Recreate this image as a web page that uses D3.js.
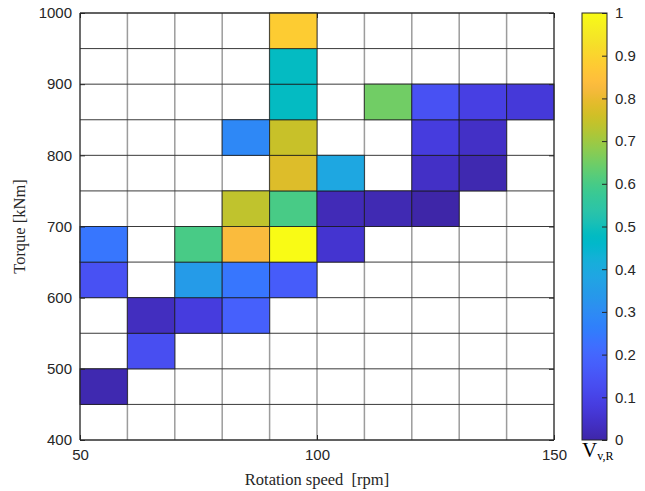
<!DOCTYPE html>
<html>
<head>
<meta charset="utf-8">
<script src="https://cdn.jsdelivr.net/npm/d3@7"></script>
<style>
  html, body { margin: 0; padding: 0; background: #fff; }
  svg { display: block; }
</style>
</head>
<body>
<svg id="chart" width="645" height="491"></svg>
<script>
// ---- data ----
const speedEdges = [50, 60, 70, 80, 90, 100, 110, 120, 130, 140, 150];
const torqueEdges = [400, 450, 500, 550, 600, 650, 700, 750, 800, 850, 900, 950, 1000];
const xTicks = [50, 100, 150];
const yTicks = [400, 500, 600, 700, 800, 900, 1000];
const cbTicks = [0, 0.1, 0.2, 0.3, 0.4, 0.5, 0.6, 0.7, 0.8, 0.9, 1];

// lower-left corner of each filled bin and its value
const cellSpeed  = [50, 50, 50, 60, 60, 70, 70, 70, 80, 80, 80, 80, 80, 90, 90, 90, 90, 90, 90, 90, 90, 100, 100, 100, 110, 110, 120, 120, 120, 120, 130, 130, 130, 140];
const cellTorque = [450, 600, 650, 500, 550, 550, 600, 650, 550, 600, 650, 700, 800, 600, 650, 700, 750, 800, 850, 900, 950, 650, 700, 750, 700, 850, 700, 750, 800, 850, 750, 800, 850, 850];
const cellValue  = [0.01, 0.14, 0.24, 0.13, 0.03, 0.08, 0.35, 0.60, 0.18, 0.24, 0.83, 0.74, 0.29, 0.17, 1.00, 0.60, 0.78, 0.75, 0.48, 0.48, 0.88, 0.055, 0.02, 0.39, 0.015, 0.65, 0.0, 0.04, 0.08, 0.14, 0.01, 0.04, 0.09, 0.07];

// parula colormap (64 entries)
const parula = [
[0.2422,0.1504,0.6603],[0.2504,0.1650,0.7076],[0.2578,0.1818,0.7511],[0.2647,0.1978,0.7952],
[0.2706,0.2147,0.8364],[0.2751,0.2342,0.8710],[0.2783,0.2559,0.8991],[0.2803,0.2782,0.9221],
[0.2813,0.3006,0.9414],[0.2810,0.3228,0.9579],[0.2795,0.3447,0.9717],[0.2760,0.3667,0.9829],
[0.2699,0.3892,0.9906],[0.2602,0.4123,0.9952],[0.2440,0.4358,0.9988],[0.2206,0.4603,0.9973],
[0.1963,0.4847,0.9892],[0.1834,0.5074,0.9798],[0.1786,0.5289,0.9682],[0.1764,0.5499,0.9520],
[0.1687,0.5703,0.9359],[0.1540,0.5902,0.9218],[0.1460,0.6091,0.9079],[0.1380,0.6276,0.8973],
[0.1248,0.6459,0.8883],[0.1113,0.6635,0.8763],[0.0952,0.6798,0.8598],[0.0689,0.6948,0.8394],
[0.0297,0.7082,0.8163],[0.0036,0.7203,0.7917],[0.0067,0.7312,0.7660],[0.0433,0.7411,0.7394],
[0.0964,0.7500,0.7120],[0.1408,0.7584,0.6842],[0.1717,0.7670,0.6554],[0.1938,0.7758,0.6251],
[0.2161,0.7843,0.5923],[0.2470,0.7918,0.5567],[0.2906,0.7973,0.5188],[0.3406,0.8008,0.4789],
[0.3909,0.8029,0.4354],[0.4456,0.8024,0.3909],[0.5044,0.7993,0.3480],[0.5616,0.7942,0.3045],
[0.6174,0.7876,0.2612],[0.6720,0.7793,0.2227],[0.7242,0.7698,0.1910],[0.7738,0.7598,0.1646],
[0.8203,0.7498,0.1535],[0.8634,0.7406,0.1596],[0.9035,0.7330,0.1774],[0.9393,0.7288,0.2100],
[0.9728,0.7298,0.2394],[0.9956,0.7434,0.2371],[0.9970,0.7659,0.2199],[0.9952,0.7893,0.2028],
[0.9892,0.8136,0.1885],[0.9786,0.8386,0.1766],[0.9676,0.8639,0.1643],[0.9610,0.8890,0.1537],
[0.9597,0.9135,0.1423],[0.9628,0.9373,0.1265],[0.9691,0.9606,0.1064],[0.9769,0.9839,0.0805]
];
const parulaColors = parula.map(c => d3.rgb(c[0]*255, c[1]*255, c[2]*255).formatHex());
const colorInterp = d3.piecewise(d3.interpolateRgb, parulaColors);
const color = v => colorInterp(Math.max(0, Math.min(1, v)));

// ---- layout ----
const svg = d3.select("#chart");
const L = 80, R = 554, T = 13, B = 440;
const cbL = 582, cbR = 607;
const axisColor = "#262626";
const tickFont = "'Liberation Sans', Arial, Helvetica, sans-serif";
const labelFont = "'Liberation Serif', 'Times New Roman', Times, serif";

const x = d3.scaleLinear().domain([50, 150]).range([L, R]);
const y = d3.scaleLinear().domain([400, 1000]).range([B, T]);
const cy = d3.scaleLinear().domain([0, 1]).range([B, T]);

// plot background
svg.append("rect").attr("x", L).attr("y", T).attr("width", R - L).attr("height", B - T).attr("fill", "#fff");

// bin grid lines (empty bins)
svg.append("g").selectAll("line").data(speedEdges).join("line")
  .attr("x1", d => x(d)).attr("x2", d => x(d)).attr("y1", T).attr("y2", B)
  .attr("stroke", "#9c9c9c").attr("stroke-width", 1.5);
svg.append("g").selectAll("line").data(torqueEdges).join("line")
  .attr("x1", L).attr("x2", R).attr("y1", d => y(d)).attr("y2", d => y(d))
  .attr("stroke", "#3a3a3a").attr("stroke-width", 1);

// filled bins
const cells = cellValue.map((v, i) => ({ s: cellSpeed[i], t: cellTorque[i], v }));
svg.append("g").selectAll("rect").data(cells).join("rect")
  .attr("x", d => x(d.s)).attr("y", d => y(d.t + 50))
  .attr("width", d => x(d.s + 10) - x(d.s))
  .attr("height", d => y(d.t) - y(d.t + 50))
  .attr("fill", d => color(d.v))
  .attr("stroke", "#1a1a1a").attr("stroke-opacity", 0.75).attr("stroke-width", 1);

// axes
const xAxisB = d3.axisBottom(x).tickValues(xTicks).tickSize(-5).tickPadding(9).tickFormat(d3.format("d"));
const xAxisT = d3.axisTop(x).tickValues(xTicks).tickSize(-5).tickFormat("");
const yAxisL = d3.axisLeft(y).tickValues(yTicks).tickSize(-5).tickPadding(8).tickFormat(d3.format("d"));
const yAxisR = d3.axisRight(y).tickValues(yTicks).tickSize(-5).tickFormat("");

function styleAxis(g) {
  g.select(".domain").attr("stroke", axisColor).attr("stroke-width", 1);
  g.selectAll(".tick line").attr("stroke", axisColor);
  g.selectAll(".tick text").attr("fill", axisColor).attr("font-family", tickFont).attr("font-size", 15);
}
svg.append("g").attr("transform", `translate(0,${B})`).call(xAxisB).call(styleAxis)
  .call(g => g.select(".domain").attr("d", `M${L},0H${R}`));
svg.append("g").attr("transform", `translate(0,${T})`).call(xAxisT).call(styleAxis)
  .call(g => g.select(".domain").attr("d", `M${L},0H${R}`));
svg.append("g").attr("transform", `translate(${L},0)`).call(yAxisL).call(styleAxis)
  .call(g => g.select(".domain").attr("d", `M0,${T}V${B}`));
svg.append("g").attr("transform", `translate(${R},0)`).call(yAxisR).call(styleAxis)
  .call(g => g.select(".domain").attr("d", `M0,${T}V${B}`));

// axis labels
svg.append("text").attr("x", (L + R) / 2).attr("y", 485)
  .attr("text-anchor", "middle").attr("font-family", labelFont).attr("font-size", 16.5).attr("fill", axisColor)
  .attr("xml:space", "preserve").text("Rotation speed  [rpm]");
svg.append("text").attr("transform", `translate(25,${(T + B) / 2}) rotate(-90)`)
  .attr("text-anchor", "middle").attr("font-family", labelFont).attr("font-size", 16.5).attr("fill", axisColor)
  .text("Torque [kNm]");

// colorbar
const defs = svg.append("defs");
const grad = defs.append("linearGradient").attr("id", "cbgrad")
  .attr("x1", 0).attr("y1", 1).attr("x2", 0).attr("y2", 0);
grad.selectAll("stop").data(parulaColors).join("stop")
  .attr("offset", (d, i) => i / (parulaColors.length - 1)).attr("stop-color", d => d);
svg.append("rect").attr("x", cbL).attr("y", T).attr("width", cbR - cbL).attr("height", B - T)
  .attr("fill", "url(#cbgrad)").attr("stroke", axisColor).attr("stroke-width", 1);
const cbAxis = d3.axisRight(cy).tickValues(cbTicks).tickSize(-5).tickPadding(8).tickFormat(d3.format("~g"));
svg.append("g").attr("transform", `translate(${cbR},0)`).call(cbAxis).call(styleAxis)
  .call(g => g.select(".domain").remove());

// colorbar title V_{v,R}
const cbt = svg.append("text").attr("x", 582).attr("y", 457)
  .attr("font-family", labelFont).attr("fill", "#000");
cbt.append("tspan").attr("font-size", 21).text("V");
cbt.append("tspan").attr("font-size", 12).attr("dy", 3).text("v,R");
</script>
</body>
</html>
